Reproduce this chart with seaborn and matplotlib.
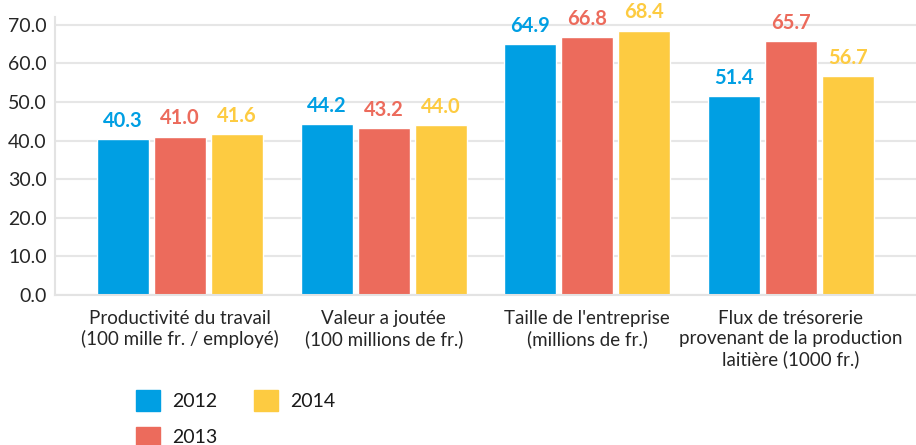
import matplotlib
matplotlib.use("Agg")
import matplotlib.pyplot as plt
import pandas as pd
import seaborn as sns

CATEGORIES = [
    "Productivité du travail\n(100 mille fr. / employé)",
    "Valeur a joutée\n(100 millions de fr.)",
    "Taille de l'entreprise\n(millions de fr.)",
    "Flux de trésorerie\nprovenant de la production\nlaitière (1000 fr.)",
]
YEARS = ["2012", "2013", "2014"]
VALUES_2012 = [40.3, 44.2, 64.9, 51.4]
VALUES_2013 = [41.0, 43.2, 66.8, 65.7]
VALUES_2014 = [41.6, 44.0, 68.4, 56.7]
COLORS = ["#009FE3", "#EC6B5C", "#FDCB41"]
Y_TICKS = [0, 10, 20, 30, 40, 50, 60, 70]

rows = []
for year, vals in zip(YEARS, [VALUES_2012, VALUES_2013, VALUES_2014]):
    for cat, v in zip(CATEGORIES, vals):
        rows.append({"cat": cat, "year": year, "value": v})
df = pd.DataFrame(rows)

sns.set_style("white")
plt.rcParams["font.family"] = ["Lato", "DejaVu Sans"]
plt.rcParams["text.color"] = "#1a1a1a"

fig = plt.figure(figsize=(9.16, 4.45), dpi=100)
ax = fig.add_axes([0.060, 0.337, 0.94, 0.625])

sns.barplot(
    data=df, x="cat", y="value", hue="year", order=CATEGORIES, hue_order=YEARS,
    palette=COLORS, width=0.84, gap=0.09, saturation=1, ax=ax, legend=False,
)

# étiquettes de valeur au-dessus des barres, couleur de l'année
for cont, col in zip(ax.containers, COLORS):
    ax.bar_label(cont, fmt="%.1f", padding=6, color=col,
                 fontsize=14.5, fontweight="bold")

ax.set_ylim(0, 72)
ax.set_xlim(-0.615, 3.615)
ax.set_yticks(Y_TICKS)
ax.set_yticklabels([f"{t:.1f}" for t in Y_TICKS], fontsize=14)
ax.tick_params(axis="x", labelsize=13.5, length=5, color="#e3e3e3", width=1.5, pad=6)
ax.tick_params(axis="y", length=0, pad=6)
ax.set_xlabel("")
ax.set_ylabel("")
ax.yaxis.grid(True, color="#e6e6e6", linewidth=1.5)
ax.set_axisbelow(True)
for side in ["top", "right"]:
    ax.spines[side].set_visible(False)
for side in ["left", "bottom"]:
    ax.spines[side].set_color("#e3e3e3")
    ax.spines[side].set_linewidth(1.5)

handles = [plt.Rectangle((0, 0), 1, 1, color=c) for c in COLORS]
fig.legend(
    handles, YEARS, loc="upper left", bbox_to_anchor=(0.140, 0.14),
    ncol=2, frameon=False, fontsize=14, handlelength=1.25, handleheight=1.25,
    handletextpad=0.6, labelspacing=0.8, columnspacing=1.9, borderaxespad=0,
)

fig.savefig("out.png", dpi=100)
